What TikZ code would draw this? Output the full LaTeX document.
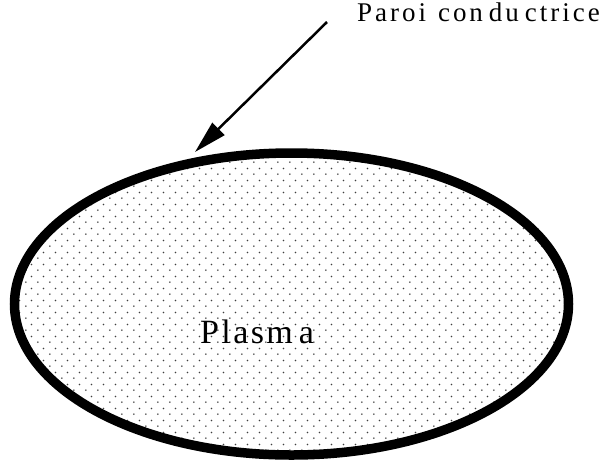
\documentclass[tikz,border=0pt]{standalone}
\usepackage{fontspec}
\setmainfont{Liberation Serif}
\usetikzlibrary{arrows.meta, patterns.meta}

% dotted fill of the plasma
\pgfdeclarepattern{name=plasma dots, type=uncolored,
  bottom left={\pgfpoint{0pt}{0pt}}, top right={\pgfpoint{11.7pt}{11.7pt}},
  tile size={\pgfpoint{11.7pt}{11.7pt}},
  code={\pgfpathcircle{\pgfpoint{2.9pt}{2.9pt}}{0.9pt}
        \pgfpathcircle{\pgfpoint{8.75pt}{8.75pt}}{0.9pt}
        \pgfusepath{fill}}}

\newcommand\walllabelfont{\fontsize{27}{30}\selectfont\addfontfeatures{LetterSpace=11}}
\newcommand\plasmalabelfont{\fontsize{34}{38}\selectfont\addfontfeatures{LetterSpace=7}}

\tikzset{
  wall/.style={line width=9.5pt, pattern={plasma dots}, pattern color=black!75},
  pointer/.style={line width=2.5pt, -{Triangle[length=33pt, width=17pt]}},
  wall label/.style={anchor=base west, inner sep=0pt, font=\walllabelfont},
  plasma label/.style={anchor=base west, inner sep=0pt, font=\plasmalabelfont}
}

\begin{document}
\begin{tikzpicture}[x=1pt, y=-1pt]
    \useasboundingbox (0,0) rectangle (605,464);

    % Define coordinates
    \coordinate (C) at (291.5,304);
    \coordinate (tail) at (327,22);
    \coordinate (tip) at (195,152);

    % Draw the plasma
    \draw[wall] (C) ellipse [x radius=277, y radius=151];
    \node[plasma label] (plasma) at (200,343)
      {\spaceskip=6pt\relax Plasm a};

    % Label the wall
    \node[wall label] (wall) at (357,21.7)
      {\spaceskip=6pt\relax Paroi\hspace{6pt} con du ctrice};
    \draw[pointer] (tail) -- (tip);
\end{tikzpicture}
\end{document}
